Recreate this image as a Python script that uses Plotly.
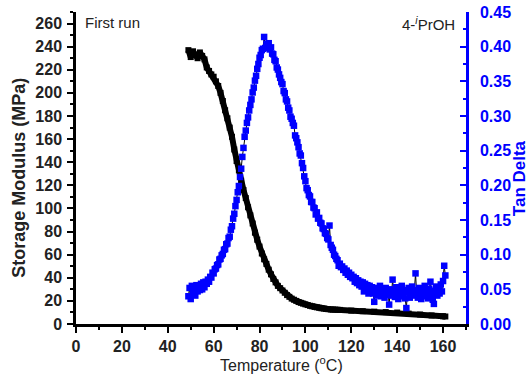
import plotly.graph_objects as go

# ---- Storage modulus (MPa) vs temperature (°C) ----
sm_temp = [49, 50, 51, 52, 53, 54, 55, 56, 57, 58, 59, 60, 61, 62, 63, 64, 65, 66, 67, 68,
           69, 70, 71, 72, 73, 74, 75, 76, 77, 78, 79, 80, 81, 82, 83, 84, 85, 86, 87, 88,
           89, 90, 91, 92, 93, 94, 95, 96, 97, 98, 99, 100, 101, 102, 103, 104, 105, 106,
           107, 108, 109, 110, 111, 112, 113, 114, 115, 120, 125, 130, 135, 140, 145, 150,
           155, 160, 161]
sm_val = [237, 231, 236, 233, 230, 235, 232, 229, 222, 219, 216, 214, 210, 206, 200, 193,
          185, 178, 170, 162, 151, 141, 133, 124, 116, 109, 101, 94, 87, 79, 73, 67, 61, 56,
          52, 47, 43, 39, 36, 33, 31, 29, 27, 25, 23.5, 22, 21, 20, 19, 18.3, 17.6, 17.0,
          16.4, 15.8, 15.3, 14.8, 14.4, 14.0, 13.6, 13.3, 13.0, 12.8, 12.6, 12.5, 12.4,
          12.3, 12.2, 11.6, 11.1, 10.7, 10.3, 9.9, 9.0, 8.2, 7.4, 6.7, 6.5]

# ---- Tan delta vs temperature (°C) ----
td_temp = [49.0, 49.5, 50.0, 50.5, 51.0, 51.5, 52.0, 52.5, 53.0, 53.5, 54.0, 54.5, 55.0, 55.5,
           56.0, 56.5, 57.0, 57.5, 58.0, 58.5, 59.0, 59.5, 60.0, 60.5, 61.0, 61.5, 62.0, 62.5,
           63.0, 63.5, 64.0, 64.5, 65.0, 65.5, 66.0, 66.5, 67.0, 67.5, 68.0, 68.5, 69.0, 69.5,
           70.0, 70.5, 71.0, 71.5, 72.0, 72.5, 73.0, 73.5, 74.0, 74.5, 75.0, 75.5, 76.0, 76.5,
           77.0, 77.5, 78.0, 78.5, 79.0, 79.5, 80.0, 80.5, 81.0, 81.5, 82.0, 82.5, 83.0, 83.5,
           84.0, 84.5, 85.0, 85.5, 86.0, 86.5, 87.0, 87.5, 88.0, 88.5, 89.0, 89.5, 90.0, 90.5,
           91.0, 91.5, 92.0, 92.5, 93.0, 93.5, 94.0, 94.5, 95.0, 95.5, 96.0, 96.5, 97.0, 97.5,
           98.0, 98.5, 99.0, 99.5, 100.0, 100.5, 101.0, 101.5, 102.0, 102.5, 103.0, 103.5,
           104.0, 104.5, 105.0, 105.5, 106.0, 106.5, 107.0, 107.5, 108.0, 108.5, 109.0, 109.5,
           110.0, 110.5, 111.0, 111.5, 112.0, 112.5, 113.0, 113.5, 114.0, 114.5, 115.0, 115.5,
           116.0, 116.5, 117.0, 117.5, 118.0, 118.5, 119.0, 119.5, 120.0, 120.5, 121.0, 121.5,
           122.0, 122.5, 123.0, 123.5, 124.0, 124.5, 125.0, 125.5, 126.0, 126.5, 127.0, 127.5,
           128.0, 128.5, 129.0, 129.5, 130.0, 130.5, 131.0, 131.5, 132.0, 132.5, 133.0, 133.5,
           134.0, 134.5, 135.0, 135.5, 136.0, 136.5, 137.0, 137.5, 138.0, 138.5, 139.0, 139.5,
           140.0, 140.5, 141.0, 141.5, 142.0, 142.5, 143.0, 143.5, 144.0, 144.5, 145.0, 145.5,
           146.0, 146.5, 147.0, 147.5, 148.0, 148.5, 149.0, 149.5, 150.0, 150.5, 151.0, 151.5,
           152.0, 152.5, 153.0, 153.5, 154.0, 154.5, 155.0, 155.5, 156.0, 156.5, 157.0, 157.5,
           158.0, 158.5, 159.0, 159.5, 160.0, 160.5, 161.0]
td_val = [0.040, 0.052, 0.036, 0.055, 0.044, 0.050, 0.041, 0.056, 0.047, 0.054, 0.049, 0.058,
          0.050, 0.060, 0.053, 0.061, 0.058, 0.064, 0.061, 0.068, 0.067, 0.074, 0.073, 0.079,
          0.080, 0.085, 0.086, 0.093, 0.094, 0.099, 0.101, 0.107, 0.108, 0.115, 0.116, 0.124,
          0.126, 0.136, 0.141, 0.152, 0.159, 0.170, 0.179, 0.190, 0.199, 0.212, 0.224, 0.241,
          0.254, 0.270, 0.279, 0.290, 0.298, 0.308, 0.316, 0.324, 0.334, 0.341, 0.351, 0.358,
          0.368, 0.375, 0.384, 0.388, 0.395, 0.397, 0.414, 0.398, 0.404, 0.400, 0.405, 0.396,
          0.399, 0.390, 0.389, 0.381, 0.379, 0.370, 0.367, 0.360, 0.355, 0.349, 0.346, 0.336,
          0.333, 0.324, 0.321, 0.312, 0.308, 0.299, 0.296, 0.290, 0.286, 0.272, 0.268, 0.262,
          0.255, 0.246, 0.243, 0.232, 0.225, 0.213, 0.206, 0.196, 0.193, 0.186, 0.184, 0.176,
          0.176, 0.168, 0.167, 0.158, 0.161, 0.152, 0.153, 0.146, 0.145, 0.138, 0.137, 0.131,
          0.130, 0.124, 0.122, 0.142, 0.114, 0.110, 0.107, 0.100, 0.098, 0.094, 0.092, 0.084,
          0.087, 0.082, 0.083, 0.078, 0.080, 0.074, 0.077, 0.071, 0.074, 0.068, 0.071, 0.066,
          0.068, 0.061, 0.066, 0.059, 0.063, 0.056, 0.061, 0.054, 0.060, 0.047, 0.058, 0.050,
          0.056, 0.044, 0.055, 0.048, 0.053, 0.044, 0.032, 0.050, 0.041, 0.052, 0.043, 0.055,
          0.040, 0.050, 0.046, 0.038, 0.052, 0.042, 0.048, 0.028, 0.050, 0.041, 0.064, 0.047,
          0.039, 0.053, 0.044, 0.036, 0.051, 0.043, 0.055, 0.040, 0.049, 0.037, 0.023, 0.046,
          0.052, 0.038, 0.047, 0.054, 0.041, 0.049, 0.073, 0.044, 0.038, 0.052, 0.045, 0.036,
          0.050, 0.042, 0.055, 0.040, 0.048, 0.037, 0.051, 0.061, 0.043, 0.035, 0.029, 0.048,
          0.054, 0.041, 0.050, 0.044, 0.057, 0.047, 0.062, 0.084, 0.070]

x_ticks = [0, 20, 40, 60, 80, 100, 120, 140, 160]
y_ticks = [0, 20, 40, 60, 80, 100, 120, 140, 160, 180, 200, 220, 240, 260]
y2_ticks = [0.00, 0.05, 0.10, 0.15, 0.20, 0.25, 0.30, 0.35, 0.40, 0.45]

FONT = "Liberation Sans, Arial, sans-serif"
BLUE = "#0000ff"
DARK = "#222222"

fig = go.Figure()
fig.add_trace(go.Scatter(
    x=sm_temp, y=sm_val, mode="lines+markers",
    line=dict(color="black", width=6),
    marker=dict(symbol="square", size=6, color="black"),
    showlegend=False))
fig.add_trace(go.Scatter(
    x=td_temp, y=td_val, mode="lines+markers", yaxis="y2",
    line=dict(color="black", width=1),
    marker=dict(symbol="square", size=6.5, color=BLUE, line=dict(width=0)),
    showlegend=False))

fig.update_layout(
    width=530, height=376,
    margin=dict(l=76, r=64, t=12, b=52, autoexpand=False),
    paper_bgcolor="white", plot_bgcolor="white",
    font=dict(family=FONT, color=DARK),
    xaxis=dict(
        range=[0, 170], tickvals=x_ticks, ticktext=[str(v) for v in x_ticks],
        showline=True, linecolor="black", linewidth=2.5, mirror=False,
        ticks="outside", ticklen=6, tickwidth=2, tickcolor="black",
        minor=dict(dtick=10, ticks="outside", ticklen=3, tickwidth=2, tickcolor="black"),
        showgrid=False, zeroline=False,
        tickfont=dict(size=16, family=FONT, color=DARK, weight="bold"),
    ),
    yaxis=dict(
        range=[0, 270], tickvals=y_ticks, ticktext=[str(v) for v in y_ticks],
        showline=True, linecolor="black", linewidth=2.5,
        ticks="outside", ticklen=6, tickwidth=2, tickcolor="black",
        minor=dict(dtick=10, ticks="outside", ticklen=3, tickwidth=2, tickcolor="black"),
        showgrid=False, zeroline=False, ticklabelstandoff=2,
        tickfont=dict(size=16, family=FONT, color=DARK, weight="bold"),
    ),
    yaxis2=dict(
        range=[0, 0.45], overlaying="y", side="right",
        tickvals=y2_ticks, ticktext=["%.2f" % v for v in y2_ticks],
        showline=True, linecolor=BLUE, linewidth=2.5,
        ticks="inside", ticklen=6, tickwidth=2, tickcolor=BLUE,
        minor=dict(dtick=0.025, ticks="inside", ticklen=3, tickwidth=2, tickcolor=BLUE),
        showgrid=False, zeroline=False, ticklabelstandoff=8,
        tickfont=dict(size=16, family=FONT, color=BLUE, weight="bold"),
    ),
    annotations=[
        dict(text="First run", xref="paper", yref="paper", x=0.018, y=1.0,
             xanchor="left", yanchor="top", showarrow=False,
             font=dict(size=15, family=FONT, color=DARK)),
        dict(text="4-<sup><i>i</i></sup>PrOH", xref="paper", yref="paper", x=0.978, y=1.0,
             xanchor="right", yanchor="top", showarrow=False,
             font=dict(size=15, family=FONT, color=DARK)),
        dict(text="<b>Storage Modulus (MPa)</b>", xref="paper", yref="paper",
             x=-0.147, y=0.468, xanchor="center", yanchor="middle", textangle=-90,
             showarrow=False, font=dict(size=18, family=FONT, color=DARK)),
        dict(text="<b>Tan Delta</b>", xref="paper", yref="paper",
             x=1.139, y=0.468, xanchor="center", yanchor="middle", textangle=-90,
             showarrow=False, font=dict(size=17, family=FONT, color=BLUE)),
        dict(text="Temperature (<sup>o</sup>C)", xref="paper", yref="paper",
             x=0.526, y=-0.128, xanchor="center", yanchor="middle",
             showarrow=False, font=dict(size=16, family=FONT, color=DARK)),
    ],
)

fig.write_html("out.html")
